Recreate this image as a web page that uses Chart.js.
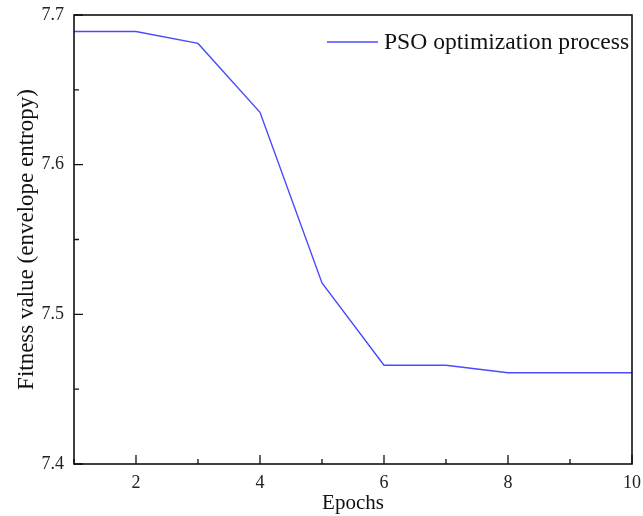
<!DOCTYPE html>
<html>
<head>
<meta charset="utf-8">
<script src="https://cdn.jsdelivr.net/npm/chart.js@4/dist/chart.umd.min.js"></script>
<style>
  html, body { margin: 0; padding: 0; background: #fff; }
  #wrap { width: 643px; height: 516px; position: relative; }
</style>
</head>
<body>
<div id="wrap"><canvas id="c"></canvas></div>
<script>
const epochs = [1, 2, 3, 4, 5, 6, 7, 8, 9, 10];
const fitness = [7.689, 7.689, 7.681, 7.635, 7.521, 7.466, 7.466, 7.461, 7.461, 7.461];
const seriesLabel = 'PSO optimization process';
const xTicks = [2, 4, 6, 8, 10];
const xMinor = [1, 3, 5, 7, 9];
const yTicks = [7.4, 7.5, 7.6, 7.7];
const yMinor = [7.45, 7.55, 7.65];

const SERIF = '"Liberation Serif", "Times New Roman", serif';
const LINE_COLOR = '#4a4aff';

// frame, inward ticks and legend
const decor = {
  id: 'decor',
  afterDraw(chart) {
    const { ctx, chartArea: a, scales: { x, y } } = chart;
    ctx.save();
    ctx.strokeStyle = '#111';
    ctx.lineWidth = 1.6;
    ctx.strokeRect(a.left, a.top, a.right - a.left, a.bottom - a.top);

    ctx.lineWidth = 1.3;
    ctx.beginPath();
    xTicks.forEach(v => { const px = x.getPixelForValue(v); ctx.moveTo(px, a.bottom); ctx.lineTo(px, a.bottom - 9); });
    xMinor.forEach(v => { const px = x.getPixelForValue(v); ctx.moveTo(px, a.bottom); ctx.lineTo(px, a.bottom - 5); });
    yTicks.forEach(v => { const py = y.getPixelForValue(v); ctx.moveTo(a.left, py); ctx.lineTo(a.left + 9, py); });
    yMinor.forEach(v => { const py = y.getPixelForValue(v); ctx.moveTo(a.left, py); ctx.lineTo(a.left + 5, py); });
    ctx.stroke();

    // legend
    ctx.strokeStyle = LINE_COLOR;
    ctx.lineWidth = 1.3;
    ctx.beginPath();
    ctx.moveTo(327, 42);
    ctx.lineTo(378, 42);
    ctx.stroke();
    ctx.fillStyle = '#111';
    ctx.font = '23.6px ' + SERIF;
    ctx.textBaseline = 'middle';
    ctx.textAlign = 'left';
    ctx.fillText(seriesLabel, 384, 43);
    ctx.restore();
  }
};

new Chart(document.getElementById('c'), {
  type: 'line',
  data: {
    datasets: [{
      label: seriesLabel,
      data: epochs.map((e, i) => ({ x: e, y: fitness[i] })),
      borderColor: LINE_COLOR,
      borderWidth: 1.4,
      pointRadius: 0,
      tension: 0,
      fill: false
    }]
  },
  options: {
    responsive: true,
    maintainAspectRatio: false,
    animation: false,
    layout: { padding: { top: 15, right: 11, left: 0, bottom: 0 } },
    plugins: { legend: { display: false }, tooltip: { enabled: false } },
    scales: {
      x: {
        type: 'linear',
        min: 1, max: 10,
        afterBuildTicks: s => { s.ticks = xTicks.map(v => ({ value: v })); },
        afterFit: s => { s.height = 52; s.paddingLeft = 0; s.paddingRight = 0; },
        grid: { display: false, drawTicks: false },
        border: { display: false },
        ticks: { color: '#222', font: { family: SERIF, size: 18 }, padding: 8, maxRotation: 0 },
        title: { display: true, text: 'Epochs', color: '#111', font: { family: SERIF, size: 21 }, padding: { top: 0, bottom: 0 } }
      },
      y: {
        min: 7.4, max: 7.7,
        afterBuildTicks: s => { s.ticks = yTicks.map(v => ({ value: v })); },
        afterFit: s => { s.width = 74; s.paddingTop = 0; s.paddingBottom = 0; },
        grid: { display: false, drawTicks: false },
        border: { display: false },
        ticks: { color: '#222', font: { family: SERIF, size: 18 }, padding: 10, callback: v => v.toFixed(1) },
        title: { display: true, text: 'Fitness value (envelope entropy)', color: '#111', font: { family: SERIF, size: 23 }, padding: { top: 13, bottom: 0 } }
      }
    }
  },
  plugins: [decor]
});
</script>
</body>
</html>
